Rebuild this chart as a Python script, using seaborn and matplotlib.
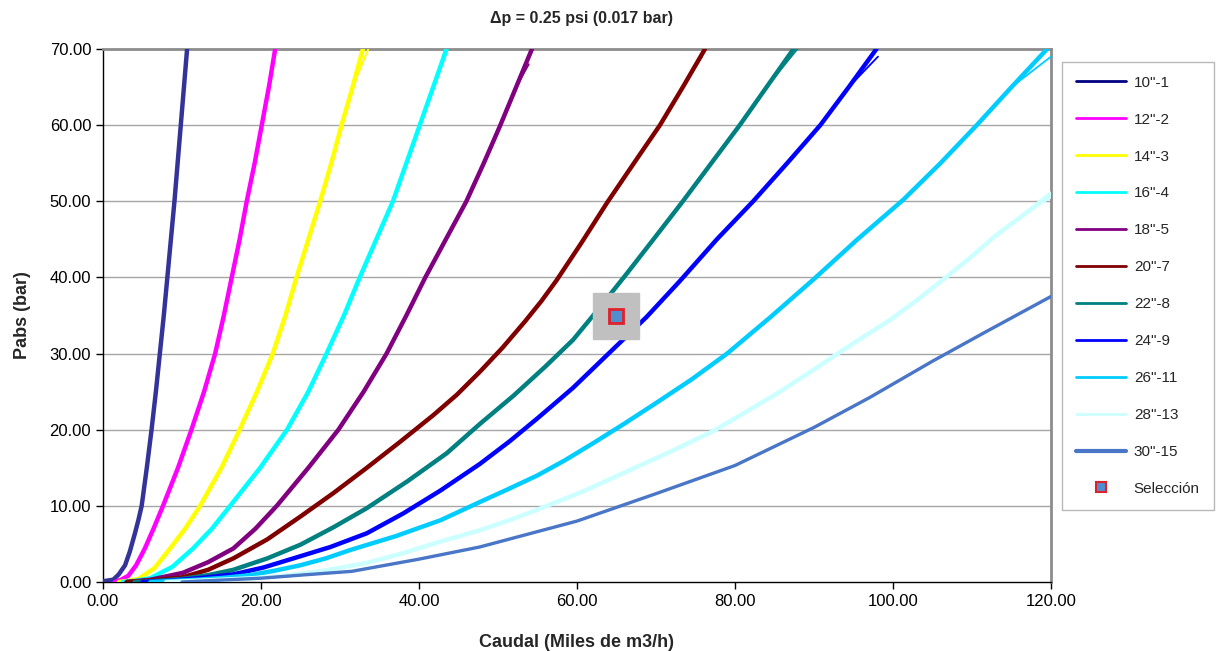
import numpy as np
import pandas as pd
import matplotlib
matplotlib.use("Agg")
import matplotlib.pyplot as plt
from matplotlib.lines import Line2D
import seaborn as sns

# Caudal (miles de m3/h) vs Pabs (bar), one pair of lists per size
q_10 = [0.0, 1.3, 2.0, 2.8, 3.4, 4.05, 4.5, 4.9, 5.55, 6.15, 6.7, 7.2, 7.7, 8.15, 8.6, 9.05, 9.45, 9.85, 10.25, 10.65]
p_10 = [0.1, 0.3, 1.0, 2.2, 4.0, 6.4, 8.2, 10, 15, 20, 25, 30, 35, 40, 45, 50, 55, 60, 65, 70]
q_12 = [1.5, 2.3, 3.2, 4.2, 5.3, 6.4, 7.6, 9.5, 11.2, 12.8, 14.2, 15.3, 16.3, 17.3, 18.2, 19.2, 20.1, 21.0, 21.8]
p_12 = [0.0, 0.3, 0.8, 2.2, 4.4, 7.0, 10, 15, 20, 25, 30, 35, 40, 45, 50, 55, 60, 65, 70]
q_14 = [2.0, 3.2, 4.5, 6.5, 8.5, 10.4, 12.3, 15.0, 17.3, 19.5, 21.5, 23.1, 24.5, 26.0, 27.5, 28.9, 30.2, 31.6, 32.9]
p_14 = [0.0, 0.15, 0.4, 1.8, 4.4, 7.0, 10, 15, 20, 25, 30, 35, 40, 45, 50, 55, 60, 65, 70]
q_16 = [2.5, 4.0, 6.0, 8.8, 11.4, 13.8, 16.1, 19.9, 23.3, 26.0, 28.3, 30.5, 32.5, 34.6, 36.7, 38.4, 40.1, 41.8, 43.5]
p_16 = [0.0, 0.15, 0.5, 2.0, 4.4, 7.0, 10, 15, 20, 25, 30, 35, 40, 45, 50, 55, 60, 65, 70]
q_18 = [3.0, 6.0, 10.1, 13.3, 16.5, 19.3, 22.0, 26.0, 29.8, 33.0, 35.9, 38.4, 40.8, 43.4, 46.0, 48.2, 50.3, 52.3, 54.3]
p_18 = [0.0, 0.3, 1.2, 2.6, 4.4, 7.0, 10, 15, 20, 25, 30, 35, 40, 45, 50, 55, 60, 65, 70]
q_20 = [3.0, 6.0, 10.0, 13.3, 16.5, 20.8, 25.0, 29.2, 33.4, 37.6, 41.8, 44.8, 47.7, 50.6, 53.4,
        55.5, 57.4, 60.6, 63.8, 67.2, 70.5, 73.4, 76.2]
p_20 = [0.0, 0.2, 0.6, 1.6, 3.1, 5.6, 8.6, 11.7, 15.0, 18.4, 21.9, 24.6, 27.6, 30.8, 34.2,
        36.9, 39.6, 44.6, 49.8, 55, 60, 65, 70]
q_22 = [4.0, 7.0, 10.0, 13.3, 16.5, 20.8, 25.0, 29.2, 33.4, 38.5, 43.5, 47.7, 52.0, 56.0, 59.5,
        63.0, 66.3, 69.9, 73.4, 77.0, 80.6, 84.0, 87.4]
p_22 = [0.0, 0.15, 0.4, 0.9, 1.6, 3.1, 4.9, 7.2, 9.7, 13.2, 16.9, 20.75, 24.5, 28.3, 31.8,
        36.2, 40.5, 45.3, 50, 55, 60, 65, 70]
q_24 = [5.0, 8.0, 10.0, 13.0, 16.5, 20.3, 24.1, 28.8, 33.4, 38.0, 42.7, 47.7, 51.5, 55.0, 59.5,
        64.0, 68.8, 73.0, 77.7, 82.3, 86.6, 90.8, 94.4, 97.9]
p_24 = [0.0, 0.15, 0.3, 0.6, 1.0, 1.9, 3.1, 4.6, 6.4, 9.0, 12.0, 15.5, 18.5, 21.5, 25.5,
        30.0, 34.8, 39.5, 45, 50, 55, 60, 65, 70]
q_26 = [6.0, 9.0, 12.0, 15.3, 18.6, 21.8, 25.0, 28.2, 31.3, 37.0, 42.7, 47.7, 51.3, 55.0, 58.5,
        62.0, 66.0, 70.0, 74.5, 79.0, 84.5, 90.0, 95.5, 101.3, 106.0, 110.6, 115.0, 119.5]
p_26 = [0.0, 0.15, 0.3, 0.55, 0.9, 1.5, 2.2, 3.1, 4.2, 6.0, 8.1, 10.5, 12.2, 14.0, 16.0,
        18.2, 20.8, 23.5, 26.6, 30.0, 34.8, 39.8, 45, 50.2, 55, 60, 65, 70]
q_28 = [8.0, 11.5, 15.0, 19.0, 22.8, 28.0, 33.4, 38.0, 42.7, 47.7, 51.4, 55.0, 61.0, 66.7, 72.0,
        77.2, 81.5, 85.7, 89.4, 93.0, 96.4, 99.6, 103.0, 106.7, 110.0, 113.0, 116.5, 120.0]
p_28 = [0.0, 0.15, 0.3, 0.5, 0.8, 1.5, 2.5, 3.8, 5.3, 6.8, 8.1, 9.5, 12.0, 14.7, 17.2,
        19.8, 22.4, 25.0, 27.5, 30.0, 32.3, 34.4, 37.0, 40.0, 42.8, 45.5, 48.2, 51.0]
q_30 = [10.0, 20.0, 25.0, 31.5, 40.0, 47.7, 60.0, 70.0, 80.0, 90.0, 97.0, 105.0, 112.0, 120.0]
p_30 = [0.0, 0.5, 0.9, 1.4, 3.0, 4.6, 8.0, 11.6, 15.3, 20.3, 24.2, 29.0, 33.0, 37.5]

labels = ['10"-1', '12"-2', '14"-3', '16"-4', '18"-5', '20"-7',
          '22"-8', '24"-9', '26"-11', '28"-13', '30"-15']
q_all = [q_10, q_12, q_14, q_16, q_18, q_20, q_22, q_24, q_26, q_28, q_30]
p_all = [p_10, p_12, p_14, p_16, p_18, p_20, p_22, p_24, p_26, p_28, p_30]

# end points of the second (thin) trace that splits off near the top
alt_q_end = [10.6, 21.7, 33.6, 43.3, 53.9, 75.8, 87.9, 98.1, 120.0, 120.0, 120.0]
alt_p_end = [70, 70, 70, 70, 68, 69, 70, 69, 69, 50.5, 37.5]

line_colors = ['#333399', '#FF00FF', '#FFFF00', '#00FFFF', '#800080', '#800000',
               '#008080', '#0000FF', '#00CCFF', '#CCFFFF', '#4A76C8']
legend_colors = ['#000080', '#FF00FF', '#FFFF00', '#00FFFF', '#800080', '#800000',
                 '#008080', '#0000FF', '#00CCFF', '#CCFFFF', '#4A76C8']

sel_q = [65.0]
sel_p = [35.0]

sns.set_style("white")
plt.rcParams['font.family'] = ['Liberation Sans', 'DejaVu Sans']

fig = plt.figure(figsize=(12.17, 6.51), dpi=100)
ax = fig.add_axes([0.0846, 0.106, 0.779, 0.8187])

# horizontal gridlines
for yv in range(10, 71, 10):
    ax.axhline(yv, color='#A6A6A6', lw=1.0, zorder=0)

for q, p, lab, col, aq, ap in zip(q_all, p_all, labels, line_colors, alt_q_end, alt_p_end):
    df = pd.DataFrame({"q": q, "p": p})
    lw = 2.4 if lab == '30"-15' else 3.2
    sns.lineplot(data=df, x="q", y="p", color=col, lw=lw, sort=False,
                 estimator=None, ax=ax, zorder=3)
    df2 = pd.DataFrame({"q": q[:-1] + [aq], "p": p[:-1] + [ap]})
    sns.lineplot(data=df2, x="q", y="p", color=col, lw=1.3, sort=False,
                 estimator=None, ax=ax, zorder=3)

# selection point with its grey highlight
ax.plot(sel_q, sel_p, marker='s', ms=33, color='#C0C0C0', ls='none', zorder=4)
ax.plot(sel_q, sel_p, marker='s', ms=10, mfc='#4F8FD0', mec='#E0202A', mew=2,
        ls='none', zorder=5)

ax.set_xlim(0, 120)
ax.set_ylim(0, 70)
ax.set_xticks(np.arange(0, 121, 20))
ax.set_yticks(np.arange(0, 71, 10))
ax.set_xticklabels([f"{v:.2f}" for v in np.arange(0, 121, 20)])
ax.set_yticklabels([f"{v:.2f}" for v in np.arange(0, 71, 10)])
ax.tick_params(axis='both', direction='out', length=5, width=1, labelsize=12,
               colors='black', left=True, bottom=True)

for s in ['left', 'bottom']:
    ax.spines[s].set_color('black')
    ax.spines[s].set_linewidth(1.0)
for s in ['top', 'right']:
    ax.spines[s].set_color('#8C8C8C')
    ax.spines[s].set_linewidth(2.0)

ax.set_xlabel("Caudal (Miles de m3/h)", fontsize=13, fontweight='bold', labelpad=18)
ax.set_ylabel("Pabs (bar)", fontsize=13, fontweight='bold', labelpad=13)
fig.text(0.478, 0.972, "Δp = 0.25 psi (0.017 bar)", fontsize=11.5, fontweight='bold',
         ha='center', va='center')

handles = []
for lab, col in zip(labels, legend_colors):
    lw = 3.0 if lab == '30"-15' else 2.0
    handles.append(Line2D([0], [0], color=col, lw=lw, label=lab))
handles.append(Line2D([0], [0], marker='s', ls='none', ms=7, mfc='#4F8FD0',
                      mec='#E0202A', mew=1.5, label='Selección'))

leg = fig.legend(handles=handles, loc='upper left', bbox_to_anchor=(0.8726, 0.9048),
                 fontsize=11, frameon=True, fancybox=False, handlelength=3.3,
                 labelspacing=1.5, borderpad=0.9, handletextpad=0.5, borderaxespad=0)
leg.get_frame().set_edgecolor('#A6A6A6')
leg.get_frame().set_linewidth(1.0)

fig.savefig("out.png", dpi=100)
